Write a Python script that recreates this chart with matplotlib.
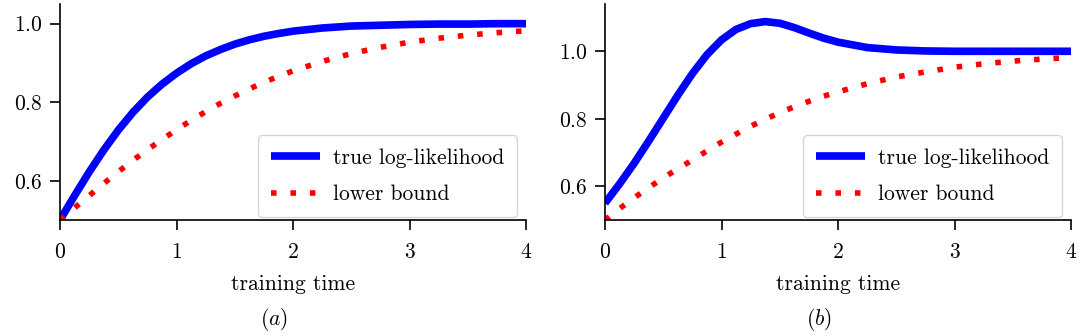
import matplotlib
matplotlib.use('Agg')
import matplotlib.pyplot as plt

# time axis: every 0.125 up to t=2, then every 0.25
t = [0, 0.125, 0.25, 0.375, 0.5, 0.625, 0.75, 0.875, 1.0, 1.125, 1.25, 1.375, 1.5,
     1.625, 1.75, 1.875, 2.0, 2.25, 2.5, 2.75, 3.0, 3.25, 3.5, 3.75, 4.0]

# (a) true log-likelihood rises monotonically
true_a = [0.50, 0.562, 0.622, 0.678, 0.729, 0.774, 0.813, 0.846, 0.874, 0.898, 0.918,
          0.934, 0.948, 0.959, 0.968, 0.975, 0.981, 0.989, 0.994, 0.996, 0.998, 0.999,
          0.999, 1.0, 1.0]
lower_a = [0.50, 0.531, 0.562, 0.593, 0.623, 0.652, 0.679, 0.705, 0.730, 0.754, 0.776,
           0.797, 0.816, 0.834, 0.851, 0.866, 0.880, 0.904, 0.924, 0.940, 0.953, 0.963,
           0.971, 0.977, 0.982]

# (b) true log-likelihood overshoots before settling
true_b = [0.55, 0.607, 0.668, 0.734, 0.802, 0.870, 0.934, 0.990, 1.034, 1.065, 1.082,
          1.088, 1.083, 1.070, 1.054, 1.039, 1.027, 1.011, 1.004, 1.001, 1.0, 1.0,
          1.0, 1.0, 1.0]
lower_b = [0.50, 0.534, 0.566, 0.596, 0.625, 0.652, 0.678, 0.705, 0.731, 0.755, 0.778,
           0.799, 0.818, 0.836, 0.852, 0.867, 0.880, 0.904, 0.924, 0.939, 0.953, 0.963,
           0.971, 0.977, 0.982]

plt.rcParams['font.family'] = 'cmr10'
plt.rcParams['mathtext.fontset'] = 'cm'
plt.rcParams['axes.formatter.use_mathtext'] = True
plt.rcParams['font.size'] = 15.5

fig = plt.figure(figsize=(10.9, 3.36), dpi=100)
ax_a = fig.add_axes([0.055, 0.345, 0.428, 0.643])
ax_b = fig.add_axes([0.555, 0.345, 0.428, 0.643])

panels = [(ax_a, true_a, lower_a, 1.05, r'$\mathit{(a)}$', 0.251),
          (ax_b, true_b, lower_b, 1.14, r'$\mathit{(b)}$', 0.751)]

for ax, tr, lo, ytop, cap, cx in panels:
    ax.plot(t, tr, color='blue', lw=5.5, label='true log-likelihood', solid_capstyle='butt')
    ax.plot(t, lo, color='red', lw=4, linestyle=(0, (1, 2.5)), label='lower bound')
    ax.set_xlim(0, 4)
    ax.set_ylim(0.5, ytop)
    ax.set_xticks([0, 1, 2, 3, 4])
    ax.set_yticks([0.6, 0.8, 1.0])
    ax.spines['top'].set_visible(False)
    ax.spines['right'].set_visible(False)
    for s in ['left', 'bottom']:
        ax.spines[s].set_linewidth(1.2)
    ax.tick_params(length=7, width=1.2)
    ax.tick_params(axis='x', pad=9)
    ax.tick_params(axis='y', pad=5.5)
    ax.set_xlabel('training time', labelpad=9)
    ax.legend(loc='lower right', bbox_to_anchor=(0.98, 0.014), borderaxespad=0,
              handlelength=2.3, handletextpad=0.6, labelspacing=0.78, borderpad=0.6)
    fig.text(cx, 0.048, cap, ha='center', va='center')

fig.savefig('out.png', dpi=100)
